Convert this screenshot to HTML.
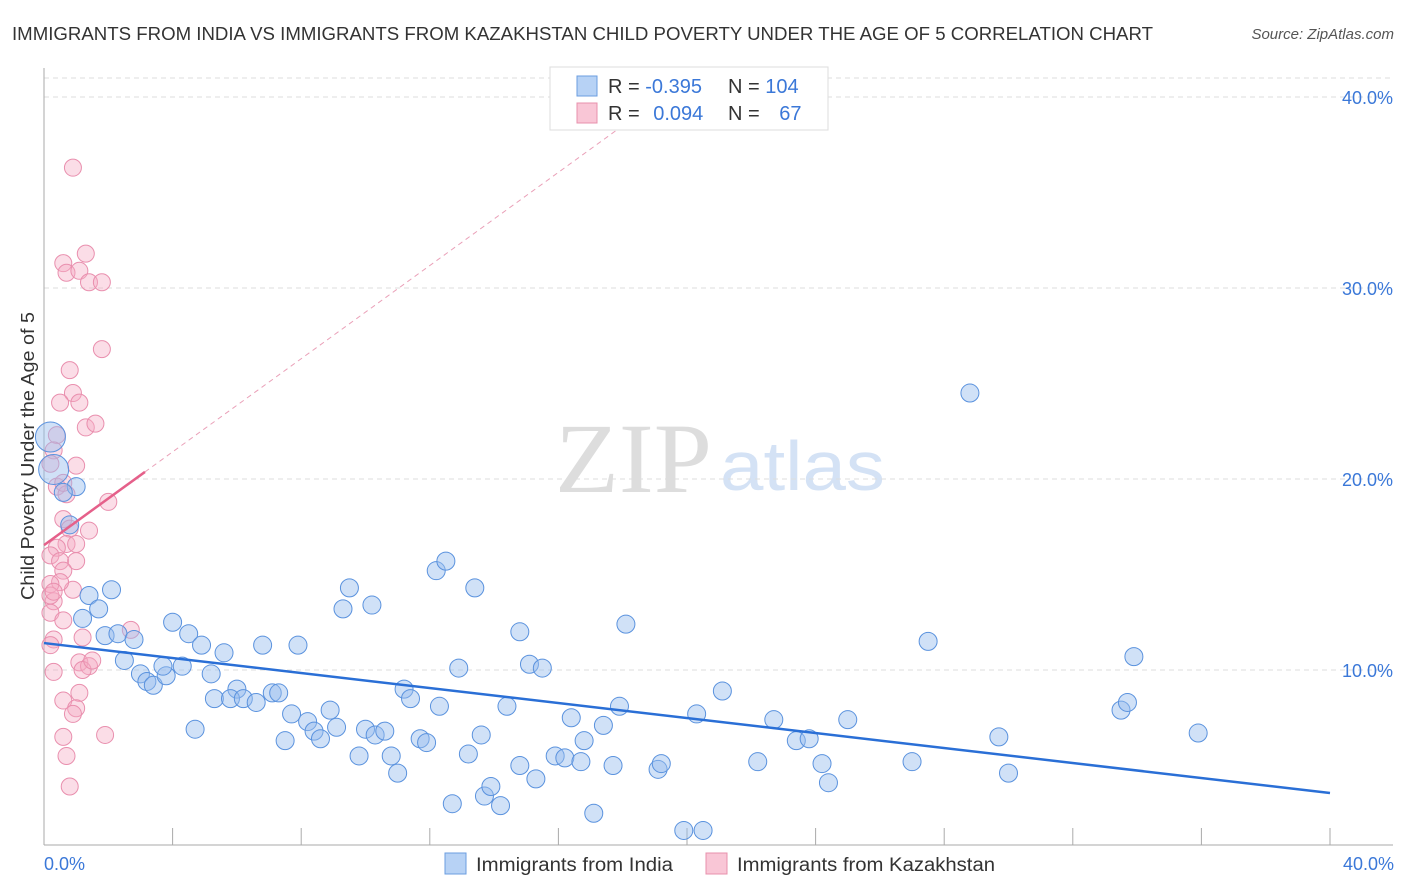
<!DOCTYPE html>
<html><head><meta charset="utf-8"><style>
body{margin:0;background:#fff;font-family:"Liberation Sans",sans-serif}
#wrap{position:relative;width:1406px;height:892px;overflow:hidden}
</style></head><body>
<div id="wrap">
<svg id="svg" width="1406" height="892" xmlns="http://www.w3.org/2000/svg">
<text x="12" y="40" font-size="18" fill="#333" textLength="1141" lengthAdjust="spacingAndGlyphs">IMMIGRANTS FROM INDIA VS IMMIGRANTS FROM KAZAKHSTAN CHILD POVERTY UNDER THE AGE OF 5 CORRELATION CHART</text>
<text x="1394" y="39" font-size="15" fill="#555" font-style="italic" text-anchor="end">Source: ZipAtlas.com</text>
<text x="555" y="492" font-size="100" fill="#ddd" font-family="Liberation Serif,serif" textLength="157" lengthAdjust="spacingAndGlyphs">ZIP</text>
<text x="720" y="490" font-size="70" fill="#d4e2f5" textLength="165" lengthAdjust="spacingAndGlyphs">atlas</text>
<g id="grid"></g>
<g id="pts"></g>
<g id="lines"></g>
<text transform="translate(34,456) rotate(-90)" font-size="18" fill="#333" text-anchor="middle" textLength="288" lengthAdjust="spacingAndGlyphs">Child Poverty Under the Age of 5</text>
<text x="44" y="870" font-size="18" fill="#3b78d8">0.0%</text>
<text x="1394" y="870" font-size="18" fill="#3b78d8" text-anchor="end">40.0%</text>
<g>
<rect x="550" y="67" width="278" height="63" fill="#fff" stroke="#ddd"/>
<rect x="577" y="76" width="20" height="20" fill="#b7d2f5" stroke="#6b9ee0"/>
<rect x="577" y="103" width="20" height="20" fill="#f9c6d6" stroke="#e890ac"/>
<text x="608" y="93" font-size="20" fill="#333">R = <tspan fill="#3b78d8">-0.395</tspan></text>
<text x="728" y="93" font-size="20" fill="#333">N = <tspan fill="#3b78d8">104</tspan></text>
<text x="608" y="120" font-size="20" fill="#333">R = <tspan fill="#3b78d8" dx="8">0.094</tspan></text>
<text x="728" y="120" font-size="20" fill="#333">N = <tspan fill="#3b78d8" dx="14">67</tspan></text>
</g>
<g>
<rect x="445" y="853" width="21" height="21" fill="#b7d2f5" stroke="#6b9ee0"/>
<text x="476" y="871" font-size="19" fill="#333" textLength="197" lengthAdjust="spacingAndGlyphs">Immigrants from India</text>
<rect x="706" y="853" width="21" height="21" fill="#f9c6d6" stroke="#e890ac"/>
<text x="737" y="871" font-size="19" fill="#333" textLength="258" lengthAdjust="spacingAndGlyphs">Immigrants from Kazakhstan</text>
</g>
</svg>
</div>
<script>
const yTicks=[10,20,30,40];
const yTickLabels=["10.0%","20.0%","30.0%","40.0%"];
const xTicks=[0,4,8,12,16,20,24,28,32,36,40];
const indiaX=[0.2,0.3,1.0,0.6,0.8,1.4,1.7,2.1,1.2,1.9,2.3,2.8,2.5,3.0,3.2,3.4,3.8,3.7,4.3,4.0,4.5,4.9,5.2,5.6,5.3,4.7,6.0,5.8,6.2,6.6,6.8,7.1,7.3,7.5,7.7,7.9,8.2,8.4,8.6,8.9,9.1,9.3,9.5,9.8,10.0,10.2,10.3,10.6,10.8,11.0,11.2,11.4,11.7,11.9,12.2,12.5,12.3,12.7,12.9,13.2,13.4,13.6,13.7,13.9,14.2,14.4,14.8,14.8,15.1,15.3,15.5,15.9,16.2,16.4,16.7,16.8,17.1,17.4,17.7,17.9,18.1,19.1,19.2,19.9,20.3,20.5,21.1,22.2,22.7,23.4,23.8,24.2,24.4,25.0,27.0,27.5,28.8,29.7,30.0,33.5,33.7,33.9,35.9];
const indiaY=[22.2,20.5,19.6,19.3,17.6,13.9,13.2,14.2,12.7,11.8,11.9,11.6,10.5,9.8,9.4,9.2,9.7,10.2,10.2,12.5,11.9,11.3,9.8,10.9,8.5,6.9,9.0,8.5,8.5,8.3,11.3,8.8,8.8,6.3,7.7,11.3,7.3,6.8,6.4,7.9,7.0,13.2,14.3,5.5,6.9,13.4,6.6,6.8,5.5,4.6,9.0,8.5,6.4,6.2,15.2,15.7,8.1,3.0,10.1,5.6,14.3,6.6,3.4,3.9,2.9,8.1,5.0,12.0,10.3,4.3,10.1,5.5,5.4,7.5,5.2,6.3,2.5,7.1,5.0,8.1,12.4,4.8,5.1,1.6,7.7,1.6,8.9,5.2,7.4,6.3,6.4,5.1,4.1,7.4,5.2,11.5,24.5,6.5,4.6,7.9,8.3,10.7,6.7];
const kazX=[0.9,0.6,1.3,0.7,1.1,1.4,1.8,1.8,0.8,0.9,0.5,1.1,1.3,1.6,0.4,1.0,0.3,0.2,0.4,2.0,0.7,0.6,0.6,0.8,1.4,0.7,0.4,0.2,0.5,1.0,1.0,0.9,0.6,0.5,0.2,0.3,0.2,0.3,0.2,0.6,1.2,2.7,0.3,0.2,1.1,1.4,1.2,1.5,0.3,0.6,1.1,1.0,0.9,1.9,0.6,0.7,0.8];
const kazY=[36.3,31.3,31.8,30.8,30.9,30.3,30.3,26.8,25.7,24.5,24.0,24.0,22.7,22.9,22.3,20.7,21.5,20.8,19.6,18.8,19.2,19.8,17.9,17.4,17.3,16.6,16.4,16.0,15.7,16.6,15.7,14.2,15.2,14.6,14.5,13.6,13.9,14.1,13.0,12.6,11.7,12.1,11.6,11.3,10.4,10.2,10.0,10.5,9.9,8.4,8.8,8.0,7.7,6.6,6.5,5.5,3.9];
const indiaFit=[11.41,3.56];
const kazFit=[16.54,20.37];
const kazFitEnd=3.14;

const NS="http://www.w3.org/2000/svg";
const X=v=>44+v*32.15, Y=v=>861-v*19.1;
function mk(tag,attrs,parent){const e=document.createElementNS(NS,tag);for(const k in attrs)e.setAttribute(k,attrs[k]);parent.appendChild(e);return e;}
const grid=document.getElementById('grid'),pts=document.getElementById('pts'),lines=document.getElementById('lines');
mk('line',{x1:44,x2:1393,y1:78,y2:78,stroke:'#ddd','stroke-dasharray':'5,4'},grid);
yTicks.forEach((t,i)=>{
 const l=mk('line',{x1:44,x2:1393,y1:Y(t),y2:Y(t),stroke:'#ddd','stroke-dasharray':'5,4'},grid);
 
 
 const tx=mk('text',{x:1393,y:Y(t)+7,'font-size':18,fill:'#3b78d8','text-anchor':'end'},grid);
 tx.textContent=yTickLabels[i];
 
 
});
mk('line',{x1:44,x2:44,y1:68,y2:845,stroke:'#aaa'},grid);
mk('line',{x1:44,x2:1393,y1:845,y2:845,stroke:'#aaa'},grid);
xTicks.forEach(t=>{
 const l=mk('line',{x1:X(t),x2:X(t),y1:828,y2:845,stroke:'#aaa'},grid);
 
 
});
kazX.forEach((x,i)=>{
 const c=mk('circle',{cx:X(x),cy:Y(kazY[i]),r:8.5,fill:'rgba(246,170,196,0.4)',stroke:'#e98fae','stroke-width':1},pts);
 
 
});
indiaX.forEach((x,i)=>{
 const big=i<2;
 const c=mk('circle',{cx:X(x),cy:Y(indiaY[i]),r:big?15:9,fill:'rgba(150,188,238,0.45)',stroke:'#5a92de','stroke-width':1},pts);
 
 
});
const bl=mk('line',{x1:X(0),y1:Y(indiaFit[0]),x2:X(40),y2:Y(indiaFit[1]),stroke:'#2a6fd6','stroke-width':2.5},lines);


const slope=(kazFit[1]-kazFit[0])/kazFitEnd;
const xe=(38.3-kazFit[0])/slope;
const dl=mk('line',{x1:X(kazFitEnd),y1:Y(kazFit[1]),x2:X(xe),y2:Y(38.3),stroke:'#eaa0b8','stroke-width':1,'stroke-dasharray':'5,4'},lines);


const pl=mk('line',{x1:X(0),y1:Y(kazFit[0]),x2:X(kazFitEnd),y2:Y(kazFit[1]),stroke:'#e5608a','stroke-width':2.5},lines);


</script>
</body></html>
